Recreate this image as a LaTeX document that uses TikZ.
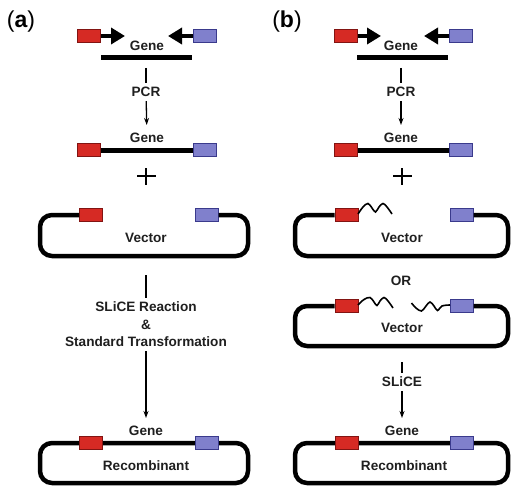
\documentclass[tikz,border=0pt]{standalone}
\usepackage{fontspec}
\setmainfont{Liberation Sans}
\usetikzlibrary{arrows.meta}
\definecolor{tagred}{RGB}{214,42,36}
\definecolor{tagredline}{RGB}{130,20,18}
\definecolor{tagblue}{RGB}{128,128,204}
\definecolor{tagblueline}{RGB}{58,58,140}
\tikzset{
	redtag/.style={draw=tagredline, fill=tagred, line width=1pt, minimum width=23pt, minimum height=13pt, inner sep=0pt},
	bluetag/.style={draw=tagblueline, fill=tagblue, line width=1pt, minimum width=23pt, minimum height=13pt, inner sep=0pt},
	lbl/.style={font=\fontsize{13.6}{17.5}\selectfont\bfseries, text=black!88, inner sep=4pt, align=center},
	panel/.style={font=\fontsize{23}{26}\selectfont, inner sep=0pt},
	primer/.style={line width=4.5pt, -{Triangle[length=14pt, width=16pt]}},
	bar/.style={line width=5pt},
	ring/.style={line width=4.5pt, rounded corners=12pt},
	stem/.style={line width=1.3pt},
	stemarrow/.style={line width=1.3pt, -{Stealth[length=7pt, width=5pt]}, shorten >=4pt},
	wave/.style={line width=1.6pt}
}
\begin{document}
\begin{tikzpicture}[x=1pt, y=-1pt]
		%%%%% START %%%%%
		\useasboundingbox (0,0) rectangle (519,500);
		
		\node[panel] (labA) at (21,22) {(\textbf{a})};
		\node[panel] (labB) at (287,22) {(\textbf{b})};
		
		%% (a) primers and template
		\node[redtag] (fwdA) at (89,36) {};
		\node[bluetag] (revA) at (204.5,36) {};
		\coordinate (fwdtipA) at (125,36);
		\coordinate (revtipA) at (168,36);
		\draw[primer] (fwdA.east) -- (fwdtipA);
		\draw[primer] (revA.west) -- (revtipA);
		\node[lbl] (geneA) at (147,46) {Gene};
		\draw[bar] (101,57.5) -- (192,57.5);
		
		\coordinate (pcrtopA) at (146,68);
		\node[lbl] (pcrA) at (146,92) {PCR};
		\node[lbl] (gene2A) at (147,138) {Gene};
		\draw[stem] (pcrtopA) -- (pcrA);
		\draw[stemarrow] (pcrA) -- (gene2A);
		
		\node[redtag] (fwd2A) at (89,150) {};
		\node[bluetag] (rev2A) at (204.5,150) {};
		\draw[bar] (fwd2A.east) -- (rev2A.west);
		
		\draw[stem] (146,168) -- (146,185) (137,176) -- (156,176);
		
		%% (a) vector
		\node[redtag] (fwdVA) at (91,215) {};
		\node[bluetag] (revVA) at (206.5,215) {};
		\draw[ring] (fwdVA.west) -- (40,215) -- (40,256) -- (248,256) -- (248,215) -- (revVA.east);
		\node[lbl] (vecA) at (146,238) {Vector};
		
		\coordinate (slicetopA) at (146,275);
		\node[lbl] (sliceA) at (146,324.5) {SLiCE Reaction\\\&\\Standard Transformation};
		\node[lbl] (gene3A) at (146,431) {Gene};
		\draw[stem] (slicetopA) -- (sliceA);
		\draw[stemarrow] (sliceA) -- (gene3A);
		
		%% (a) recombinant
		\draw[ring] (40,443) rectangle (248,483);
		\node[redtag] (fwdRA) at (91,443) {};
		\node[bluetag] (revRA) at (206.5,443) {};
		\node[lbl] (recA) at (146,466) {Recombinant};
		
		%% (b) primers and template
		\node[redtag] (fwdB) at (345.5,36) {};
		\node[bluetag] (revB) at (460.5,36) {};
		\coordinate (fwdtipB) at (381,36);
		\coordinate (revtipB) at (424,36);
		\draw[primer] (fwdB.east) -- (fwdtipB);
		\draw[primer] (revB.west) -- (revtipB);
		\node[lbl] (geneB) at (401,46) {Gene};
		\draw[bar] (357,57.5) -- (448,57.5);
		
		\coordinate (pcrtopB) at (401,68);
		\node[lbl] (pcrB) at (401,92) {PCR};
		\node[lbl] (gene2B) at (401,138) {Gene};
		\draw[stem] (pcrtopB) -- (pcrB);
		\draw[stemarrow] (pcrB) -- (gene2B);
		
		\node[redtag] (fwd2B) at (345.5,150) {};
		\node[bluetag] (rev2B) at (460.5,150) {};
		\draw[bar] (fwd2B.east) -- (rev2B.west);
		
		\draw[stem] (402,168) -- (402,185) (393,176) -- (412,176);
		
		%% (b) vector, one overhang
		\node[redtag] (fwdV1B) at (346.5,215) {};
		\node[bluetag] (revV1B) at (461.5,215) {};
		\draw[ring] (fwdV1B.west) -- (295,215) -- (295,256) -- (508,256) -- (508,215) -- (revV1B.east);
		\draw[wave] plot[smooth, tension=0.6] coordinates {(358,214) (363,207) (368,203.5) (372,208) (375.5,212) (379,207) (383,203.5) (387,207) (392,214)};
		\node[lbl] (vec1B) at (402,238) {Vector};
		
		\node[lbl] (orB) at (401,281) {OR};
		
		%% (b) vector, two overhangs
		\node[redtag] (fwdV2B) at (346.5,306) {};
		\node[bluetag] (revV2B) at (461.5,306) {};
		\draw[ring] (fwdV2B.west) -- (295,306) -- (295,346) -- (508,346) -- (508,306) -- (revV2B.east);
		\draw[wave] plot[smooth, tension=0.6] coordinates {(358,305) (364,299.5) (370,297.5) (374,302) (377,305.5) (380,301) (384,297.5) (388,301) (393,308)};
		\draw[wave] plot[smooth, tension=0.6] coordinates {(411.5,303) (416,308) (421.5,311) (426,306) (430,302) (434,306) (437.5,310.5) (442,306) (450,305)};
		\node[lbl] (vec2B) at (402,328) {Vector};
		
		\coordinate (slicetopB) at (402,362);
		\node[lbl] (sliceB) at (402,382) {SLiCE};
		\node[lbl] (gene3B) at (402,431) {Gene};
		\draw[stem] (slicetopB) -- (sliceB);
		\draw[stemarrow] (sliceB) -- (gene3B);
		
		%% (b) recombinant
		\draw[ring] (295,443) rectangle (508,483);
		\node[redtag] (fwdRB) at (346.5,443) {};
		\node[bluetag] (revRB) at (461.5,443) {};
		\node[lbl] (recB) at (404,466) {Recombinant};
		
		%%%%% END %%%%%
	\end{tikzpicture}
\end{document}
